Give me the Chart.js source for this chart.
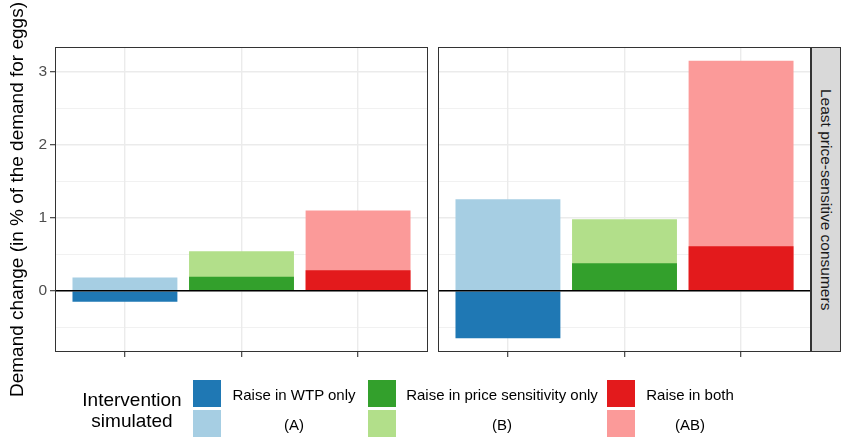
<!DOCTYPE html>
<html>
<head>
<meta charset="utf-8">
<script src="https://cdn.jsdelivr.net/npm/chart.js@4"></script>
<style>
  body { margin: 0; background: #fff; font-family: "Liberation Sans", Arial, sans-serif; }
  #wrap { position: relative; width: 844px; height: 440px; overflow: hidden; }
  canvas { position: absolute; top: 0; }
  #strip { position: absolute; left: 811px; top: 47px; width: 30px; height: 305px; box-sizing: border-box;
           background: #d9d9d9; border: 1px solid #333; display: flex; align-items: center; justify-content: center; }
  #strip span { writing-mode: vertical-rl; font-size: 15.5px; color: #1a1a1a; }
  .key { position: absolute; width: 28px; height: 27px; }
  .lab { position: absolute; font-size: 15px; color: #000; transform: translate(-50%, -50%); white-space: nowrap; }
  #ltitle { position: absolute; left: 72px; top: 389px; width: 120px; text-align: center; font-size: 19px; line-height: 21px; color: #000; }
</style>
</head>
<body>
<div id="wrap">
  <canvas id="left" width="432" height="440" style="left:0"></canvas>
  <canvas id="right" width="412" height="440" style="left:432px"></canvas>
  <div id="strip"><span>Least price-sensitive consumers</span></div>
  <div id="ltitle">Intervention<br>simulated</div>
  <div id="legend"></div>
</div>
<script>
// x positions of the three interventions
var positions = [1, 2, 3];
var singleLabels = ['Raise in WTP only', 'Raise in price sensitivity only', 'Raise in both'];
var comboLabels = ['(A)', '(B)', '(AB)'];

var darkColors = ['#1F78B4', '#33A02C', '#E31A1C'];
var lightColors = ['#A6CEE3', '#B2DF8A', '#FB9A99'];

// left panel
var leftDark = [-0.15, 0.19, 0.28];
var leftLight = [0.18, 0.54, 1.10];
// right panel (least price-sensitive consumers)
var rightDark = [-0.65, 0.375, 0.61];
var rightLight = [1.255, 0.98, 3.15];

var yTicks = [-0.5, 0, 0.5, 1, 1.5, 2, 2.5, 3];
var xMin = 0.4, xMax = 3.6, yMin = -0.84, yMax = 3.34;

Chart.defaults.font.family = '"Liberation Sans", Arial, sans-serif';

function points(vals){
  return vals.map(function(v, i){ return {x: positions[i], y: v}; });
}

var panelBorder = {
  id: 'panelBorder',
  afterDraw: function(chart){
    var a = chart.chartArea, c = chart.ctx;
    c.save();
    c.strokeStyle = '#333';
    c.lineWidth = 1;
    c.strokeRect(Math.round(a.left) + 0.5, Math.round(a.top) + 0.5, Math.round(a.width) - 1, Math.round(a.height) - 1);
    c.restore();
  }
};

function isMajor(ctx){
  return ctx.tick && Number.isInteger(ctx.tick.value);
}

function makeChart(id, dark, light, showY, padding){
  return new Chart(document.getElementById(id).getContext('2d'), {
    type: 'bar',
    data: {
      datasets: [
        { type: 'line', data: [{x: xMin, y: 0}, {x: xMax, y: 0}], borderColor: '#000', borderWidth: 1.4,
          pointRadius: 0, order: 0 },
        { data: points(dark), backgroundColor: darkColors, order: 1 },
        { data: points(light), backgroundColor: lightColors, order: 2 }
      ]
    },
    options: {
      responsive: false,
      animation: false,
      layout: { padding: padding },
      plugins: { legend: { display: false }, tooltip: { enabled: false } },
      datasets: { bar: { grouped: false, barPercentage: 1, categoryPercentage: 0.9 } },
      scales: {
        x: {
          type: 'linear', min: xMin, max: xMax, offset: false,
          afterBuildTicks: function(s){ s.ticks = positions.map(function(v){ return {value: v}; }); },
          afterFit: function(s){ s.height = 0; },
          ticks: { display: false },
          border: { display: false },
          grid: { offset: false, color: '#EBEBEB', lineWidth: 1.4, drawTicks: true, tickLength: 5, tickColor: '#333', tickWidth: 1.1 }
        },
        y: {
          type: 'linear', min: yMin, max: yMax,
          afterBuildTicks: function(s){ s.ticks = yTicks.map(function(v){ return {value: v}; }); },
          afterFit: function(s){ s.width = showY ? 55 : 0; },
          title: { display: showY, text: 'Demand change (in % of the demand for eggs)', color: '#000',
                   font: { size: 19 }, padding: { top: 6, bottom: 0 } },
          ticks: { display: showY, autoSkip: false, padding: 3, color: '#4D4D4D', font: { size: 15.5 },
                   callback: function(v){ return Number.isInteger(v) ? v : ''; } },
          border: { display: false },
          grid: {
            color: '#EBEBEB',
            lineWidth: function(ctx){ return isMajor(ctx) ? 1.4 : 0.7; },
            drawTicks: showY, tickLength: 5, tickWidth: 1.1,
            tickColor: function(ctx){ return isMajor(ctx) ? '#333' : 'rgba(0,0,0,0)'; }
          }
        }
      }
    },
    plugins: [panelBorder]
  });
}

makeChart('left', leftDark, leftLight, true, {top: 47, bottom: 88, left: 0, right: 4});
makeChart('right', rightDark, rightLight, false, {top: 47, bottom: 88, left: 6, right: 33});

// legend
var keyX = [193, 368, 607];
var labX = [294, 502, 690];
var legend = document.getElementById('legend');
for (var i = 0; i < 3; i++){
  legend.innerHTML +=
    '<div class="key" style="left:' + keyX[i] + 'px;top:380px;background:' + darkColors[i] + '"></div>' +
    '<div class="key" style="left:' + keyX[i] + 'px;top:410px;background:' + lightColors[i] + '"></div>' +
    '<div class="lab" style="left:' + labX[i] + 'px;top:394px">' + singleLabels[i] + '</div>' +
    '<div class="lab" style="left:' + labX[i] + 'px;top:424px">' + comboLabels[i] + '</div>';
}
</script>
</body>
</html>
